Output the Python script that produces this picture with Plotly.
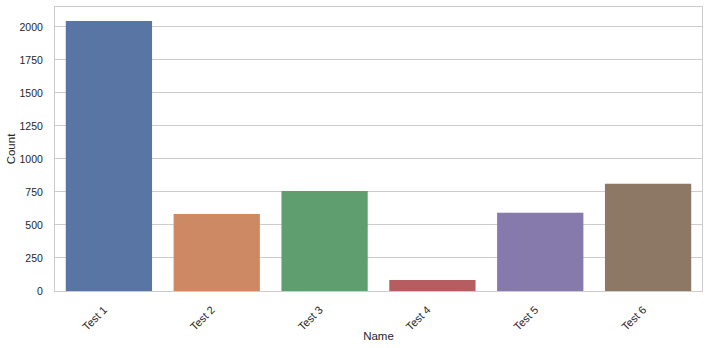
import plotly.graph_objects as go

names = ["Test 1", "Test 2", "Test 3", "Test 4", "Test 5", "Test 6"]
counts = [2045, 583, 758, 83, 593, 813]
colors = ["#5875A4", "#CC8963", "#5F9E6E", "#B55D60", "#857AAB", "#8D7866"]
y_ticks = [0, 250, 500, 750, 1000, 1250, 1500, 1750, 2000]

fig = go.Figure(go.Bar(x=names, y=counts, marker=dict(color=colors, line=dict(width=0)), width=0.8))

font = "Liberation Sans, Arial, sans-serif"
fig.update_layout(
    width=708, height=348,
    margin=dict(l=55, r=6, t=7, b=57),
    plot_bgcolor="white", paper_bgcolor="white",
    showlegend=False,
    font=dict(family=font, size=11, color="#262626"),
    bargap=0.2,
)
fig.update_xaxes(
    title=dict(text="Name", font=dict(size=11.5, color="#262626"), standoff=0),
    range=[-0.5, 5.5], tickangle=-45, showgrid=False, automargin=False,
    showline=True, linecolor="#cccccc", linewidth=1, mirror=True,
    ticks="", ticklabelstandoff=7, ticklabelshift=-5, tickfont=dict(size=11),
)
fig.update_yaxes(
    title=dict(text="Count", font=dict(size=11.5, color="#262626"), standoff=1),
    range=[0, 2151], tickvals=y_ticks, showgrid=True, gridcolor="#cccccc", gridwidth=1,
    showline=True, linecolor="#cccccc", linewidth=1, mirror=True, automargin=False,
    zeroline=False, ticks="", ticklabelstandoff=9, tickfont=dict(size=10.5),
)
fig.write_html("out.html")
